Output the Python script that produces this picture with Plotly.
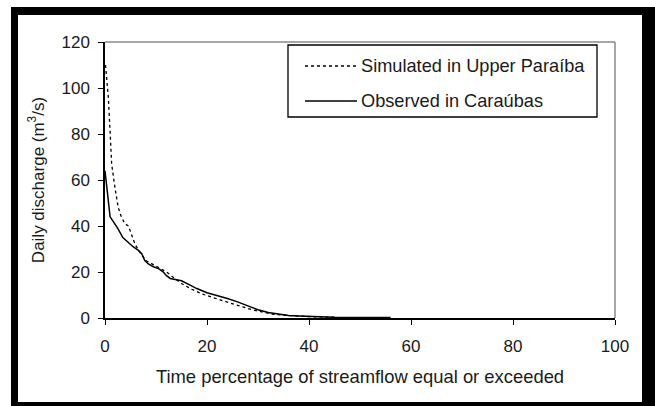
import plotly.graph_objects as go

# ---- data ----
obs_x = [0, 0.3, 0.6, 1.0, 1.6, 2.5, 3.5, 4.5, 5.5, 6.5, 7.2, 7.8, 8.5, 9.5, 10.5, 11.4,
         12.0, 12.8, 14.0, 15.0, 16.5, 18.0, 20.0, 22.0, 24.0, 26.0, 28.0, 30.0, 32.0,
         34.0, 36.0, 38.0, 40.0, 43.0, 45.0, 50.0, 56.0]
obs_y = [64, 57, 50, 44, 42, 39, 35, 33, 31, 29.5, 28, 25, 23.5, 22.3, 21.5, 20.1,
         18.5, 17.2, 16.8, 16.2, 14.5, 12.8, 11, 9.8, 8.5, 7, 5.2, 3.6, 2.4,
         1.6, 1.1, 0.9, 0.7, 0.5, 0.3, 0.25, 0.2]

sim_x = [0.1, 0.3, 0.65, 1.0, 1.3, 2.0, 2.6, 3.2, 3.9, 4.6, 5.2, 5.9, 7.0, 8.0, 9.0,
         10.5, 12.0, 13.5, 15.0, 17.0, 19.0, 21.0, 23.0, 25.0, 27.0, 29.0, 31.0, 33.0,
         35.0, 38.0, 41.0, 45.0]
sim_y = [110, 104, 96, 81, 67, 56, 48, 44, 41, 40, 36.3, 32, 28, 25, 23.8,
         22, 20.1, 17.5, 15, 12.5, 10.5, 9, 7.5, 6.2, 4.8, 3.5, 2.4, 1.6,
         1.2, 0.8, 0.5, 0.3]

x_ticks = [0, 20, 40, 60, 80, 100]
y_ticks = [0, 20, 40, 60, 80, 100, 120]

series_names = ["Simulated in Upper Paraíba", "Observed in Caraúbas"]

# ---- layout geometry (pixels) ----
W, H = 655, 406
L, R, T, B = 105, 40, 42, 88
PW, PH = W - L - R, H - T - B


def px(x):
    return (x - L) / PW


def py(y):
    return (H - B - y) / PH


FONT = "Liberation Sans, Arial, sans-serif"
TXT = "#1a1a1a"

fig = go.Figure()
fig.add_trace(go.Scatter(x=sim_x, y=sim_y, mode="lines", name=series_names[0],
                         showlegend=False,
                         line=dict(color="black", width=1.3, dash="dot")))
fig.add_trace(go.Scatter(x=obs_x, y=obs_y, mode="lines", name=series_names[1],
                         showlegend=False,
                         line=dict(color="black", width=1.5)))

shapes = []
# gray top/right border of plot area
shapes.append(dict(type="line", xref="paper", yref="paper", x0=0, y0=1, x1=1, y1=1,
                   line=dict(color="#8a8a8a", width=1.5)))
shapes.append(dict(type="line", xref="paper", yref="paper", x0=1, y0=0, x1=1, y1=1,
                   line=dict(color="#8a8a8a", width=1.5)))
# legend box + samples
shapes.append(dict(type="rect", xref="paper", yref="paper",
                   x0=px(288), x1=px(597), y0=py(117), y1=py(45),
                   fillcolor="white", line=dict(color="black", width=1.3), layer="below"))
legend_rows = [(66, "dot", 1.3), (101, "solid", 1.5)]
annotations = []
for (ry, dash, lw), name in zip(legend_rows, series_names):
    shapes.append(dict(type="line", xref="paper", yref="paper",
                       x0=px(305), x1=px(357), y0=py(ry), y1=py(ry),
                       line=dict(color="black", width=lw, dash=dash)))
    annotations.append(dict(text=name, xref="paper", yref="paper",
                            x=px(359), y=py(ry), xanchor="left", yanchor="middle",
                            showarrow=False, font=dict(size=18.2, color=TXT)))
# black outer frame
for (x0, y0, x1, y1) in [(11, 7, 655, 15), (11, 7, 18, 406), (642, 7, 655, 406),
                         (11, 402, 655, 406)]:
    shapes.append(dict(type="rect", xref="paper", yref="paper",
                       x0=px(x0), x1=px(x1), y0=py(y1), y1=py(y0),
                       fillcolor="black", line=dict(width=0), layer="above"))

fig.update_layout(
    width=W, height=H,
    margin=dict(l=L, r=R, t=T, b=B),
    paper_bgcolor="white", plot_bgcolor="rgba(0,0,0,0)",
    font=dict(family=FONT, size=17, color=TXT),
    showlegend=False,
    xaxis=dict(range=[0, 100], tickvals=x_ticks, showgrid=False, zeroline=False,
               showline=True, linecolor="black", linewidth=1.5,
               ticks="outside", ticklen=5, tickcolor="black",
               ticklabelstandoff=7,
               title=dict(text="Time percentage of streamflow equal or exceeded",
                          standoff=15, font=dict(size=18.4))),
    yaxis=dict(range=[0, 120], tickvals=y_ticks, showgrid=False, zeroline=False,
               showline=True, linecolor="black", linewidth=1.5,
               ticks="outside", ticklen=5, tickcolor="black",
               ticklabelstandoff=5,
               title=dict(text="Daily discharge (m<sup>3</sup>/s)",
                          standoff=13, font=dict(size=17))),
    shapes=shapes,
    annotations=annotations,
)

fig.write_html("out.html", config={"displayModeBar": False},
               post_script="document.body.style.margin='0';document.body.style.overflow='hidden';")
